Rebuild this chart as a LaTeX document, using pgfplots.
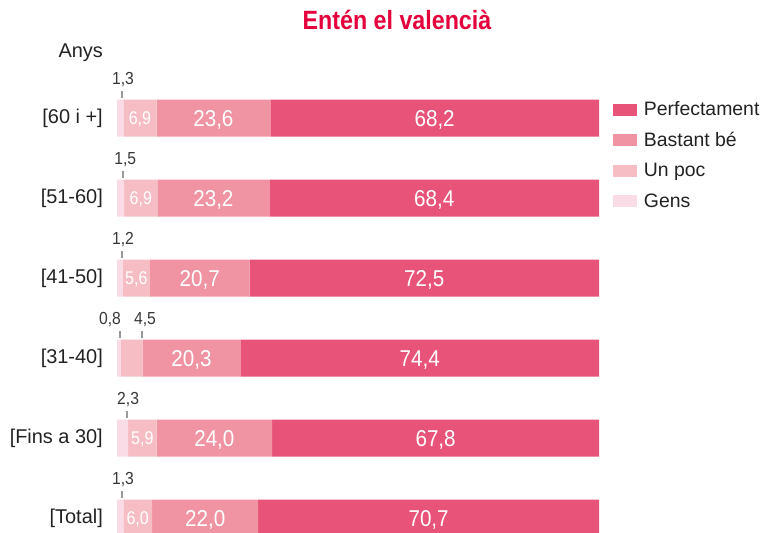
\documentclass[border=0pt]{standalone}
\usepackage{pgfplots}
\usepackage{pgfplotstable}
\pgfplotsset{compat=1.18}
\usepackage{fontspec}
\setmainfont{Liberation Sans}
\newfontfamily\condfont[FakeStretch=0.9]{Liberation Sans}
\newfontfamily\condfontb[FakeStretch=0.87]{Liberation Sans}
\newfontfamily\titlefont[FakeStretch=0.88]{Liberation Sans}
\definecolor{titlered}{HTML}{E4003A}
\definecolor{cPerf}{HTML}{E8537A}
\definecolor{cBast}{HTML}{F093A3}
\definecolor{cPoc}{HTML}{F7BDC4}
\definecolor{cGens}{HTML}{FADCE7}
\definecolor{txt}{HTML}{222222}
\definecolor{lead}{HTML}{9A9A9A}

\pgfplotstableread{
y gens poc bast perf
0 1.3 6.9 23.6 68.2
1 1.5 6.9 23.2 68.4
2 1.2 5.6 20.7 72.5
3 0.8 4.5 20.3 74.4
4 2.3 5.9 24.0 67.8
5 1.3 6.0 22.0 70.7
}\data

\pgfplotstableread{
x y lab
20.0 0 23,6
65.9 0 68,2
20.0 1 23,2
65.8 1 68,4
17.15 2 20,7
63.75 2 72,5
15.45 3 20,3
62.8 3 74,4
20.2 4 24,0
66.1 4 67,8
18.3 5 22,0
64.65 5 70,7
}\biglab

\pgfplotstableread{
x y lab
4.75 0 6,9
4.95 1 6,9
4.0 2 5,6
5.25 4 5,9
4.3 5 6,0
}\smalllab

\pgfplotstableread{
x y lab
1.25 -0.5 1,3
1.7 0.5 1,5
1.25 1.5 1,2
-1.45 2.5 0,8
5.8 2.5 4,5
2.3 3.5 2,3
1.25 4.5 1,3
}\toplab

\pgfplotstableread{
x y
1.1 -0.34
1.1 -0.25
nan nan
1.3 0.66
1.3 0.75
nan nan
1.0 1.66
1.0 1.75
nan nan
0.6 2.66
0.6 2.75
nan nan
5.1 2.66
5.1 2.75
nan nan
2.1 3.66
2.1 3.75
nan nan
1.1 4.66
1.1 4.75
}\leaders

\pgfplotsset{
  sqlegend/.style={legend image code/.code={\fill[##1] (0bp,0bp) rectangle (24.5bp,12bp); \path (31bp,0bp);}},
  base/.style={at={(117bp,455bp)}, anchor=north west, scale only axis,
    width=482bp, height=480bp, xmin=0, xmax=100, ymin=-0.5, ymax=5.5,
    y dir=reverse, clip=false}
}

\begin{document}
\begin{tikzpicture}
\useasboundingbox (0,0) rectangle (763bp,533bp);
\node[anchor=base, inner sep=0pt, font=\titlefont\bfseries\fontsize{26.5}{30}\selectfont, text=titlered] at (397bp,503bp) {Entén el valencià};
\node[anchor=base east, inner sep=0pt, font=\fontsize{20}{24}\selectfont, text=txt] at (103bp,475bp) {Anys};

\begin{axis}[base,
  xbar stacked, bar width=37bp,
  axis line style={draw=none},
  xtick=\empty, ytick={0,...,5},
  yticklabels={{\relax[60 i +]},{\relax[51-60]},{\relax[41-50]},{\relax[31-40]},{\relax[Fins a 30]},{\relax[Total]}},
  major tick length=0pt,
  yticklabel style={anchor=east, inner sep=0pt, xshift=-14bp, font=\fontsize{20}{24}\selectfont, text=txt},
  reverse legend,
  legend style={at={(1,1)}, anchor=north west, xshift=13.7bp, yshift=-23.5bp,
    draw=none, fill=none, inner sep=0pt, row sep=12.5bp, column sep=0pt,
    font=\fontsize{19.5}{22}\selectfont, text=txt,
    cells={anchor=base west},
    nodes={inner xsep=0pt, inner ysep=0pt, text height=14bp, text depth=4bp}},
]
\addplot[fill=cGens, draw=none, sqlegend] table[x=gens, y=y]{\data};
\addlegendentry{Gens}
\addplot[fill=cPoc, draw=none, sqlegend] table[x=poc, y=y]{\data};
\addlegendentry{Un poc}
\addplot[fill=cBast, draw=none, sqlegend] table[x=bast, y=y]{\data};
\addlegendentry{Bastant bé}
\addplot[fill=cPerf, draw=none, sqlegend] table[x=perf, y=y]{\data};
\addlegendentry{Perfectament}
\end{axis}

\begin{axis}[base, hide axis, unbounded coords=jump]
\addplot[draw=none, nodes near coords, point meta=explicit symbolic,
  every node near coord/.style={anchor=center, inner sep=0pt, text=white,
    font=\condfont\fontsize{23}{25}\selectfont, text height=16.5bp, text depth=0pt}]
  table[x=x, y=y, meta=lab]{\biglab};
\addplot[draw=none, nodes near coords, point meta=explicit symbolic,
  every node near coord/.style={anchor=center, inner sep=0pt, text=white,
    font=\condfontb\fontsize{18.5}{20}\selectfont, text height=13.3bp, text depth=0pt}]
  table[x=x, y=y, meta=lab]{\smalllab};
\addplot[draw=none, nodes near coords, point meta=explicit symbolic,
  every node near coord/.style={anchor=center, inner sep=0pt, text=txt!90,
    font=\condfont\fontsize{17.5}{20}\selectfont, text height=12.3bp, text depth=0pt}]
  table[x=x, y=y, meta=lab]{\toplab};
\addplot[lead, line width=2bp] table[x=x, y=y]{\leaders};
\end{axis}
\end{tikzpicture}
\end{document}
